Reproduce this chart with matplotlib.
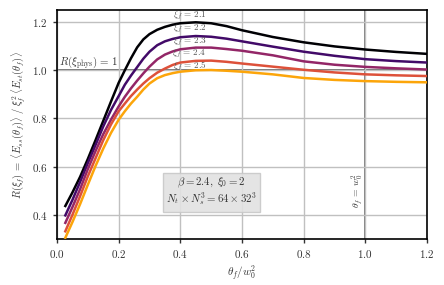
import matplotlib
matplotlib.use("Agg")
import matplotlib.pyplot as plt
from matplotlib.ticker import FuncFormatter, MultipleLocator

plt.rcParams['mathtext.fontset'] = 'cm'
plt.rcParams['font.family'] = 'serif'
plt.rcParams['font.serif'] = ['DejaVu Serif']

theta = [0.027, 0.05, 0.075, 0.1, 0.125, 0.15, 0.175, 0.2, 0.22, 0.24, 0.26, 0.28, 0.3,
         0.325, 0.35, 0.375, 0.4, 0.45, 0.5, 0.55, 0.6, 0.7, 0.8, 0.9, 1.0, 1.1, 1.2]

xi_values = [2.1, 2.2, 2.3, 2.4, 2.5]

R_21 = [0.437, 0.493, 0.558, 0.632, 0.71, 0.79, 0.87, 0.948, 1.0, 1.05, 1.095, 1.128, 1.15,
        1.168, 1.18, 1.189, 1.195, 1.199, 1.195, 1.183, 1.166, 1.138, 1.116, 1.099, 1.086, 1.076, 1.068]
R_22 = [0.398, 0.462, 0.537, 0.615, 0.69, 0.767, 0.835, 0.893, 0.94, 0.978, 1.013, 1.048, 1.077,
        1.104, 1.12, 1.13, 1.137, 1.142, 1.139, 1.131, 1.12, 1.098, 1.077, 1.06, 1.046, 1.038, 1.032]
R_23 = [0.367, 0.432, 0.507, 0.59, 0.665, 0.735, 0.795, 0.85, 0.89, 0.925, 0.957, 0.987, 1.015,
        1.045, 1.065, 1.078, 1.087, 1.094, 1.094, 1.088, 1.081, 1.062, 1.037, 1.023, 1.014, 1.008, 1.003]
R_24 = [0.332, 0.40, 0.478, 0.56, 0.635, 0.71, 0.775, 0.83, 0.862, 0.893, 0.92, 0.945, 0.967,
        0.99, 1.007, 1.022, 1.032, 1.039, 1.04, 1.035, 1.028, 1.015, 1.002, 0.991, 0.983, 0.979, 0.976]
R_25 = [0.305, 0.37, 0.445, 0.525, 0.603, 0.675, 0.74, 0.795, 0.83, 0.862, 0.89, 0.92, 0.945,
        0.967, 0.98, 0.988, 0.994, 1.0, 1.001, 0.998, 0.994, 0.983, 0.968, 0.96, 0.955, 0.952, 0.95]

series = [R_21, R_22, R_23, R_24, R_25]
colors = ['#000004', '#420a68', '#932667', '#dd513a', '#fca50a']
label_y = [1.224, 1.17, 1.118, 1.069, 1.018]

fig = plt.figure(figsize=(4.44, 2.85), dpi=100)
ax = fig.add_axes([57/444, 1-239/285, (427-57)/444, (239-10)/285])

ax.grid(True, color='#c0c0c0', linewidth=1.0, zorder=0)
ax.axhline(1.0, color='#555555', linewidth=1.2, zorder=1)
ax.axvline(1.0, color='#666666', linewidth=1.2, zorder=1)

for xi, vals, c, ly in zip(xi_values, series, colors, label_y):
    ax.plot(theta, vals, color=c, linewidth=1.8, zorder=3, solid_joinstyle='round')
    ax.text(0.43, ly, r'$\xi_f\, =\, %.1f$' % xi, ha='center', va='center',
            fontsize=6.6, color='#555555', zorder=4)

ax.text(0.008, 1.03, r'$R(\xi_{\rm phys})\,=\,1$', ha='left', va='center',
        fontsize=7.8, color='#333333')
ax.text(0.972, 0.50, r'$\theta_f\,=\,w_0^2$', ha='center', va='center',
        rotation=90, fontsize=7, color='#333333')
ax.text(0.5, 0.495, '$\\beta=2.4,\\ \\xi_0=2$\n$N_t\\times N_s^3=64\\times 32^3$',
        ha='center', va='center', fontsize=7.8, color='#333333', linespacing=1.1,
        bbox=dict(boxstyle='square,pad=0.3', facecolor='#e2e2e2', edgecolor='#c8c8c8',
                  alpha=0.9), zorder=5)

ax.set_xlim(0, 1.2)
ax.set_ylim(0.3, 1.25)
ax.xaxis.set_major_locator(MultipleLocator(0.2))
ax.set_yticks([0.4, 0.6, 0.8, 1.0, 1.2])
fmt = FuncFormatter(lambda v, p: r'$%.1f$' % v)
ax.xaxis.set_major_formatter(fmt)
ax.yaxis.set_major_formatter(fmt)
ax.tick_params(direction='out', length=3, width=1, labelsize=8, colors='#333333')
for s in ax.spines.values():
    s.set_linewidth(1.2)

ax.set_xlabel(r'$\theta_f/w_0^2$', fontsize=8, color='#333333', labelpad=3)
ax.set_ylabel(r'$R(\xi_f)\,=\,\langle E_{ss}(\theta_f)\rangle\;/\;\xi_f^2\,\langle E_{st}(\theta_f)\rangle$',
              fontsize=7.6, color='#333333', labelpad=4)

fig.savefig('out.png', dpi=100)
